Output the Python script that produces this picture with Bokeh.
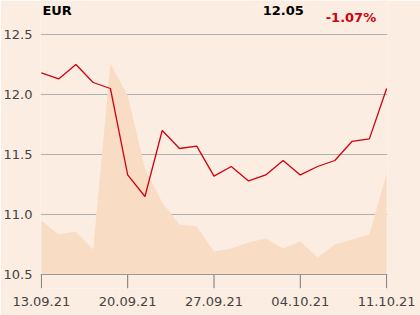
from bokeh.plotting import figure
from bokeh.models import FixedTicker, Range1d, Label, PrintfTickFormatter, Span
from bokeh.embed import file_html
from bokeh.resources import INLINE

dates = ["13.09.21", "20.09.21", "27.09.21", "04.10.21", "11.10.21"]
price = [12.18, 12.13, 12.25, 12.10, 12.05, 11.33, 11.15, 11.70, 11.55, 11.57, 11.32,
         11.40, 11.28, 11.33, 11.45, 11.33, 11.40, 11.45, 11.61, 11.63, 12.05]
volume = [540, 400, 430, 250, 2110, 1790, 1060, 720, 500, 480, 230,
          260, 320, 360, 260, 330, 170, 300, 350, 400, 1010]
idx = list(range(len(price)))
tick_pos = [0, 5, 10, 15, 20]

BG = "#fbede1"
YBASE = 10.5
YTOP = 12.5 + 34 / 120
YBOT = YBASE - 14 / 120
p = figure(frame_width=347, frame_height=288, width=420, height=315,
           output_backend="svg", toolbar_location=None,
           x_range=Range1d(-0.05, 20.05), y_range=Range1d(YBOT, YTOP),
           min_border_left=40, min_border_right=33, min_border_top=0, min_border_bottom=27,
           background_fill_color=BG, border_fill_color=BG)
p.outline_line_color = None
p.extra_y_ranges = {"vol": Range1d(-140, 2740)}

p.varea(x=idx, y1=[0] * len(volume), y2=volume, y_range_name="vol", fill_color="#f9dcc4")
p.line(idx, price, line_color="#d0000f", line_width=1.3)

p.xgrid.visible = False
p.ygrid.grid_line_color = "#b0b0b0"
p.ygrid.grid_line_width = 1

# bottom axis line and outward ticks
p.add_layout(Span(location=YBASE, dimension="width", line_color="#9a9a9a", line_width=1))
p.segment(x0=tick_pos, y0=[YBASE] * len(tick_pos), x1=tick_pos, y1=[YBOT] * len(tick_pos),
          line_color="#777777", line_width=1)

p.yaxis.ticker = FixedTicker(ticks=[10.5, 11.0, 11.5, 12.0, 12.5])
p.yaxis.formatter = PrintfTickFormatter(format="%.1f")
p.yaxis.axis_line_color = None
p.yaxis.major_tick_line_color = None
p.yaxis.minor_tick_line_color = None
p.yaxis.major_tick_out = 0
p.yaxis.major_tick_in = 0
p.yaxis.major_label_standoff = 8
p.yaxis.major_label_text_font = "DejaVu Sans"
p.yaxis.major_label_text_font_size = "13px"
p.yaxis.major_label_text_color = "#444444"

xa = p.xaxis[0]
xa.ticker = FixedTicker(ticks=tick_pos, minor_ticks=[])
xa.major_label_overrides = {t: d for t, d in zip(tick_pos, dates)}
xa.axis_line_color = None
xa.major_tick_line_color = None
xa.minor_tick_line_color = None
xa.major_tick_out = 0
xa.major_tick_in = 0
xa.major_label_standoff = 8
xa.major_label_text_font = "DejaVu Sans"
xa.major_label_text_font_size = "13px"
xa.major_label_text_color = "#444444"

p.add_layout(Label(x=0.06, y=12.70, text="EUR", text_font="DejaVu Sans", text_font_style="bold",
                   text_font_size="13px", text_color="#000000", text_baseline="middle"))
p.add_layout(Label(x=15.2, y=12.70, text="12.05", text_font="DejaVu Sans", text_font_style="bold",
                   text_font_size="13px", text_color="#000000", text_baseline="middle", text_align="right"))
p.add_layout(Label(x=16.47, y=12.64, text="-1.07%", text_font="DejaVu Sans", text_font_style="bold",
                   text_font_size="13px", text_color="#d0000f", text_baseline="middle"))

open("out.html", "w").write(file_html(p, INLINE))
